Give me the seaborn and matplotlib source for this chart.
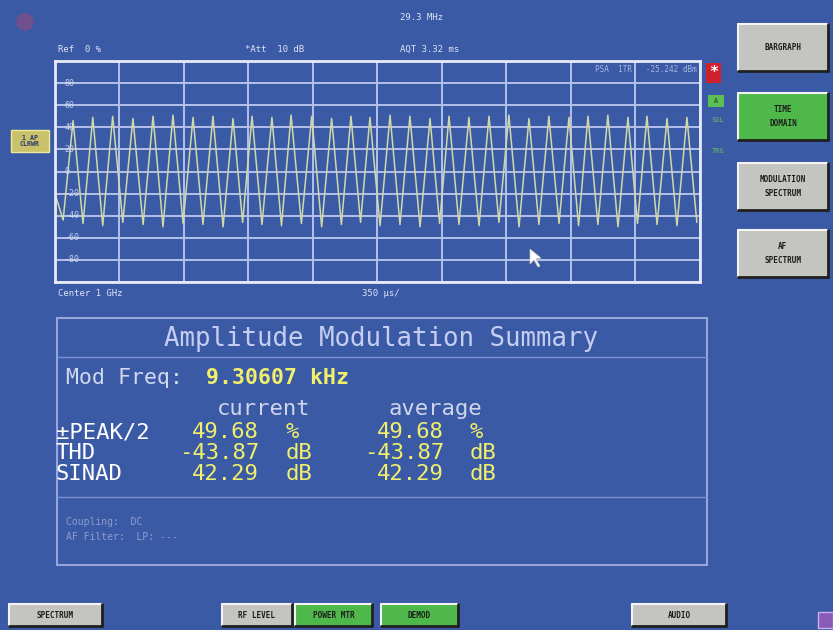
import numpy as np
import pandas as pd
import matplotlib
matplotlib.use("Agg")
import matplotlib.pyplot as plt
from matplotlib.patches import Rectangle, Circle, Polygon
import seaborn as sns

# AF demod trace (time in ms, level in %)
peak_t = [0.098, 0.205, 0.313, 0.423, 0.532, 0.640, 0.749, 0.857, 0.966, 1.069,
          1.177, 1.281, 1.393, 1.501, 1.606, 1.709, 1.818, 1.926, 2.035, 2.138,
          2.246, 2.355, 2.463, 2.572, 2.680, 2.789, 2.892, 3.000, 3.109, 3.212,
          3.321, 3.429]
peak_v = [46, 49, 50, 48, 50, 51, 49, 50, 48, 50,
          49, 51, 50, 48, 50, 49, 51, 50, 48, 50,
          49, 50, 51, 48, 50, 49, 50, 51, 49, 50,
          48, 49]
trough_t = [0.044, 0.152, 0.259, 0.368, 0.478, 0.586, 0.695, 0.803, 0.912, 1.018,
            1.123, 1.229, 1.337, 1.447, 1.554, 1.658, 1.764, 1.872, 1.981, 2.087,
            2.192, 2.301, 2.409, 2.518, 2.626, 2.735, 2.841, 2.946, 3.055, 3.161,
            3.267, 3.375, 3.483]
trough_v = [-44, -47, -49, -46, -48, -50, -47, -48, -50, -46,
            -48, -49, -47, -50, -48, -46, -49, -48, -50, -47,
            -48, -49, -46, -50, -48, -47, -49, -48, -50, -47,
            -48, -49, -46]
start_t, start_v = 0.0, -20

y_labels = ["80", "60", "40", "20", "0", "-20", "-40", "-60", "-80"]

summary_rows = ["\u00b1PEAK/2", "THD", "SINAD"]
current_vals = ["49.68", "-43.87", "42.29"]
average_vals = ["49.68", "-43.87", "42.29"]
row_units = ["%", "dB", "dB"]
mod_freq = "9.30607 kHz"

side_keys = ["BARGRAPH", "TIME\nDOMAIN", "MODULATION\nSPECTRUM", "AF\nSPECTRUM"]
side_on = [False, True, False, False]
bottom_keys = ["SPECTRUM", "RF LEVEL", "POWER MTR", "DEMOD", "AUDIO"]
bottom_on = [False, False, True, True, False]

BG = "#3b5aa6"
GRID = "#b4c0ea"
TRACE = "#cfd8a8"
YEL = "#f2f06a"
TXT = "#dde3f5"
DIM = "#a9b5e0"

sns.set_theme(style="dark")
plt.rcParams["font.family"] = ["DejaVu Sans Mono", "DejaVu Sans"]

fig = plt.figure(figsize=(8.33, 6.3), dpi=100, facecolor=BG)

# trace window
ax = fig.add_axes([55 / 833, (630 - 282) / 630, 645 / 833, 221 / 630])
ax.set_zorder(1)
ax.set_facecolor(BG)
df = pd.DataFrame({"t": [start_t] + peak_t + trough_t,
                   "v": [start_v] + peak_v + trough_v}).sort_values("t")
sns.lineplot(data=df, x="t", y="v", ax=ax, color=TRACE, lw=1.1, sort=True)
ax.set_xlim(0, 3.5)
ax.set_ylim(-100, 100)
ax.set_xticks(np.linspace(0, 3.5, 11))
ax.set_yticks(np.arange(-100, 101, 20))
ax.grid(True, color=GRID, lw=1.4)
ax.tick_params(length=0, labelbottom=False, labelleft=False)
ax.set_xlabel("")
ax.set_ylabel("")
for s in ax.spines.values():
    s.set_color("#e6eaf8")
    s.set_linewidth(2)
    s.set_visible(True)
for lab, yv in zip(y_labels, np.arange(80, -81, -20)):
    ax.text(0.05, yv, lab, color=TXT, fontsize=6, va="center", ha="left", alpha=0.85)

# full-screen pixel overlay for the UI around the trace
ui = fig.add_axes([0, 0, 1, 1])
ui.set_zorder(3)
ui.set_xlim(0, 833)
ui.set_ylim(630, 0)
ui.axis("off")

# header texts
ui.add_patch(Circle((25, 22), 8, color="#7c4f86", alpha=0.8))
ui.text(400, 17, "29.3 MHz", color=TXT, fontsize=6.5, va="center")
ui.text(58, 49, "Ref  0 %", color=TXT, fontsize=6.5, va="center")
ui.text(245, 49, "*Att  10 dB", color=TXT, fontsize=6.5, va="center")
ui.text(400, 49, "AQT 3.32 ms", color=TXT, fontsize=6.5, va="center")
ui.text(697, 70, "PSA  1TR   -25.242 dBm", color=DIM, fontsize=5.5, va="center", ha="right")
ui.text(58, 293, "Center 1 GHz", color=TXT, fontsize=6.5, va="center")
ui.text(362, 293, "350 \u00b5s/", color=TXT, fontsize=6.5, va="center")

# trace label on the left
ui.add_patch(Rectangle((11, 130), 38, 22, facecolor="#c9c26a", edgecolor="#eeea9a", lw=1))
ui.text(30, 141, "1 AP\nCLRWR", color="#2a3a6a", fontsize=4.8, ha="center", va="center",
        fontweight="bold", linespacing=1.0)

# right-hand status markers
ui.add_patch(Rectangle((706, 63), 15, 20, facecolor="#d0202c", edgecolor="none"))
ui.text(713.5, 73, "*", color="white", fontsize=11, ha="center", va="center", fontweight="bold")
ui.add_patch(Rectangle((708, 95), 16, 12, facecolor="#5cbf55", edgecolor="none"))
ui.text(716, 101, "A", color="#1e3a20", fontsize=5, ha="center", va="center")
ui.text(712, 120, "SGL", color="#66c060", fontsize=5, va="center")
ui.text(712, 151, "TRG", color="#66c060", fontsize=5, va="center")

# mouse pointer
ui.add_patch(Polygon([(530, 249), (530, 264), (534, 260), (538, 267), (540, 266),
                      (536, 259), (541, 258)], closed=True, facecolor="white",
                     edgecolor="#c0c0c0", lw=0.5))

# summary box
ui.add_patch(Rectangle((57, 318), 650, 247, facecolor="none", edgecolor="#97a6dc", lw=1.5))
ui.plot([57, 707], [357, 357], color="#7f90d0", lw=1)
ui.plot([57, 707], [497, 497], color="#7f90d0", lw=1)
ui.text(381, 339, "Amplitude Modulation Summary", color="#c5cdf0", fontsize=18.5,
        ha="center", va="center")
ui.text(66, 378, "Mod Freq:", color="#d2d8ee", fontsize=15.5, va="center")
ui.text(206, 378, mod_freq, color=YEL, fontsize=15.5, va="center", fontweight="bold")
ui.text(264, 409, "current", color="#cfd5ea", fontsize=16, va="center", ha="center")
ui.text(435, 409, "average", color="#cfd5ea", fontsize=16, va="center", ha="center")
for i, (name, cur, avg, unit) in enumerate(zip(summary_rows, current_vals,
                                               average_vals, row_units)):
    yy = 432 + i * 21
    ui.text(56, yy, name, color="white", fontsize=16, va="center")
    ui.text(259, yy, cur, color=YEL, fontsize=16, va="center", ha="right")
    ui.text(286, yy, unit, color=YEL, fontsize=16, va="center")
    ui.text(444, yy, avg, color=YEL, fontsize=16, va="center", ha="right")
    ui.text(470, yy, unit, color=YEL, fontsize=16, va="center")
ui.text(66, 522, "Coupling:  DC", color="#8e9ccf", fontsize=7, va="center")
ui.text(66, 537, "AF Filter:  LP: ---", color="#8e9ccf", fontsize=7, va="center")


def key(x0, y0, w, h, label, on, fs):
    face = "#4fb84a" if on else "#c4c4c0"
    ui.add_patch(Rectangle((x0, y0), w, h, facecolor=face, edgecolor="none"))
    ui.plot([x0, x0 + w], [y0, y0], color="#f4f4f4", lw=1.5)
    ui.plot([x0, x0], [y0, y0 + h], color="#f4f4f4", lw=1.5)
    ui.plot([x0, x0 + w], [y0 + h, y0 + h], color="#202020", lw=2)
    ui.plot([x0 + w, x0 + w], [y0, y0 + h], color="#202020", lw=2)
    ui.text(x0 + w / 2, y0 + h / 2, label, color="#1c1c1c", fontsize=fs,
            ha="center", va="center", fontweight="bold", linespacing=1.8)


for lab, on, y0 in zip(side_keys, side_on, [24, 93, 163, 230]):
    key(738, y0, 90, 47, lab, on, 5.5)
for lab, on, (x0, w) in zip(bottom_keys, bottom_on,
                            [(9, 93), (222, 70), (295, 77), (381, 77), (632, 94)]):
    key(x0, 604, w, 22, lab, on, 5.5)
ui.add_patch(Rectangle((818, 612), 15, 16, facecolor="#8a5ab8", edgecolor="#c8b0ea", lw=1))

fig.savefig("out.png", dpi=100, facecolor=BG)
